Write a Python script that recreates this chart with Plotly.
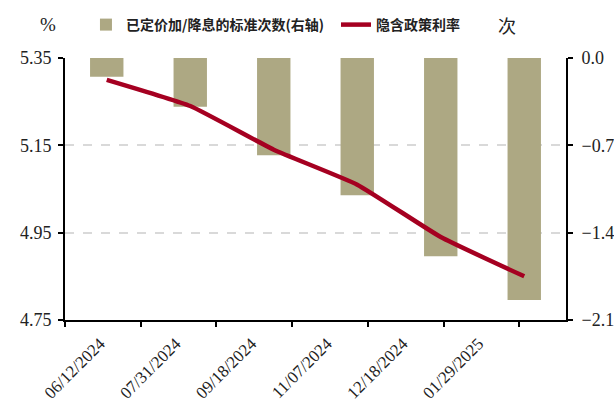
import numpy as np
import plotly.graph_objects as go

# FOMC meeting dates
dates = ["06/12/2024", "07/31/2024", "09/18/2024", "11/07/2024", "12/18/2024", "01/29/2025"]
# priced hikes/cuts (standard 25bp moves, right axis)
priced_moves = [-0.15, -0.39, -0.78, -1.10, -1.59, -1.94]
# implied policy rate, %
implied_rate = [5.30, 5.24, 5.14, 5.06, 4.94, 4.85]

bar_name = "已定价加/降息的标准次数(右轴)\u2002"
line_name = "隐含政策利率"

BAR_COLOR = "#ADA883"
LINE_COLOR = "#A50021"
SERIF = "Times New Roman, Liberation Serif, serif"
CJK = "Noto Sans CJK SC"

x = np.arange(len(dates))

# the source chart puts its x ticks on a slightly narrower grid than the bars
tick_step = 0.9066
tick_pos = [-0.5 + tick_step * k for k in range(len(dates) + 1)]
tick_text = dates + [""]

fig = go.Figure()
fig.add_trace(go.Bar(
    x=x, y=priced_moves, name=bar_name, yaxis="y",
    marker=dict(color=BAR_COLOR, line=dict(width=0)), width=0.4,
))
fig.add_trace(go.Scatter(
    x=x, y=implied_rate, name=line_name, yaxis="y2", mode="lines",
    line=dict(color=LINE_COLOR, width=4.5, shape="spline", smoothing=0.4),
))

tick_font = dict(family=SERIF, size=18, color="#222222")

fig.update_layout(
    width=614, height=420,
    margin=dict(l=65, r=48, t=58, b=100, autoexpand=False),
    paper_bgcolor="white", plot_bgcolor="white",
    showlegend=True,
    legend=dict(
        orientation="h", xref="container", yref="container",
        x=0.14, y=1 - 25 / 420, xanchor="left", yanchor="middle",
        font=dict(family=CJK, size=14, color="#222222", weight=700),
        itemwidth=30, tracegroupgap=0, bgcolor="rgba(0,0,0,0)",
    ),
    xaxis=dict(
        range=[-0.5, 5.5], tickmode="array", tickvals=tick_pos, ticktext=tick_text,
        tickangle=-45, ticklabelshift=35, ticks="outside", ticklen=5, tickwidth=2,
        tickcolor="black", showline=True, linecolor="black", linewidth=2,
        showgrid=False, zeroline=False, automargin=False,
        tickfont=dict(family=SERIF, size=17, color="#222222"),
    ),
    yaxis=dict(
        side="right", range=[-2.1, 0], tickmode="linear", tick0=0, dtick=0.7,
        tickformat=".1f", ticks="outside", ticklen=5, tickwidth=2, tickcolor="black",
        ticklabelstandoff=5,
        showline=True, linecolor="black", linewidth=2,
        showgrid=True, gridcolor="#d9d9d9", griddash="dash", gridwidth=1.5,
        zeroline=False, automargin=False, tickfont=tick_font,
    ),
    yaxis2=dict(
        side="left", overlaying="y", range=[4.75, 5.35], tickmode="linear",
        tick0=4.75, dtick=0.2, tickformat=".2f", ticks="outside", ticklen=5,
        tickwidth=2, tickcolor="black", ticklabelstandoff=3,
        showline=True, linecolor="black", linewidth=2,
        showgrid=False, zeroline=False, automargin=False, tickfont=tick_font,
    ),
)

fig.add_annotation(text="%", xref="paper", yref="paper", x=-0.034, y=1.126,
                   xanchor="center", yanchor="middle", showarrow=False,
                   font=dict(family=SERIF, size=19, color="#222222"))
fig.add_annotation(text="次", xref="paper", yref="paper", x=0.882, y=1.126,
                   xanchor="center", yanchor="middle", showarrow=False,
                   font=dict(family=CJK, size=18, color="#222222"))

fig.write_html("out.html", config={"displayModeBar": False},
               post_script="document.body.style.margin='0';")
